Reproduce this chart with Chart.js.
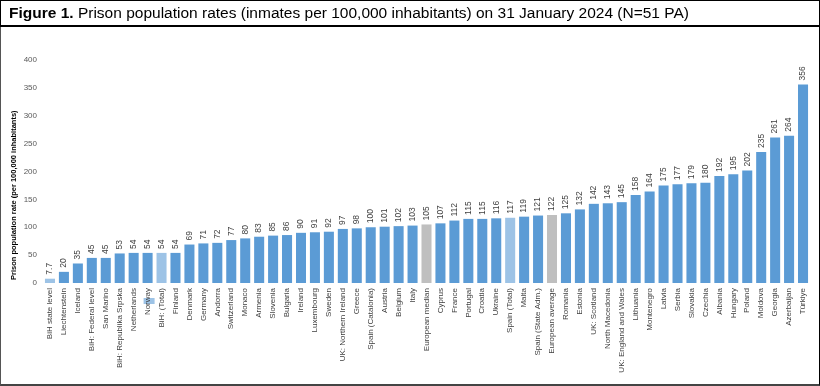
<!DOCTYPE html>
<html>
<head>
<meta charset="utf-8">
<script src="https://cdn.jsdelivr.net/npm/chart.js@4.4.1/dist/chart.umd.min.js"></script>
<style>
  html, body { margin: 0; padding: 0; background: #fff; }
  #wrap { position: relative; width: 820px; height: 386px; overflow: hidden; }
  #chart { position: absolute; left: 0; top: 0; }
  #frame {
    position: absolute; left: 0; top: 0; width: 820px; height: 386px;
    box-sizing: border-box; border: 1px solid #555; border-right-color: #000;
    border-bottom: 2px solid #444; pointer-events: none;
  }
  #title {
    position: absolute; left: 0; top: 0; width: 820px; height: 27px;
    box-sizing: border-box; border: 1px solid #000; border-bottom: 2px solid #000;
    font-family: "Liberation Sans", Arial, sans-serif; font-size: 15.5px; color: #000;
    line-height: 24px; padding-left: 8px; white-space: nowrap;
  }
</style>
</head>
<body>
<div id="wrap">
  <canvas id="chart" width="820" height="386"></canvas>
  <div id="frame"></div>
  <div id="title"><b>Figure 1.</b> Prison population rates (inmates per 100,000 inhabitants) on 31 January 2024 (N=51 PA)</div>
</div>
<script>
// 数据
const categories = [
  'BiH state level', 'Liechtenstein', 'Iceland', 'BiH: Federal level', 'San Marino',
  'BiH: Republika Srpska', 'Netherlands', 'Norway', 'BiH: (Total)', 'Finland',
  'Denmark', 'Germany', 'Andorra', 'Switzerland', 'Monaco', 'Armenia', 'Slovenia',
  'Bulgaria', 'Ireland', 'Luxembourg', 'Sweden', 'UK: Northern Ireland', 'Greece',
  'Spain (Catalonia)', 'Austria', 'Belgium', 'Italy', 'European median', 'Cyprus',
  'France', 'Portugal', 'Croatia', 'Ukraine', 'Spain (Total)', 'Malta',
  'Spain (State Adm.)', 'European average', 'Romania', 'Estonia', 'UK: Scotland',
  'North Macedonia', 'UK: England and Wales', 'Lithuania', 'Montenegro', 'Latvia',
  'Serbia', 'Slovakia', 'Czechia', 'Albania', 'Hungary', 'Poland', 'Moldova',
  'Georgia', 'Azerbaijan', 'Türkiye'
];
const rates = [
  7.7, 20, 35, 45, 45, 53, 54, 54, 54, 54,
  69, 71, 72, 77, 80, 83, 85, 86, 90, 91, 92, 97, 98, 100, 101, 102, 103,
  105, 107, 112, 115, 115, 116, 117, 119, 121, 122, 125, 132, 142, 143, 145,
  158, 164, 175, 177, 179, 180, 192, 195, 202, 235, 261, 264, 356
];
const lightBars = ['BiH state level', 'BiH: (Total)', 'Spain (Total)'];
const greyBars = ['European median', 'European average'];
const yTicks = [0, 50, 100, 150, 200, 250, 300, 350, 400];

const FONT = "'Liberation Sans', Arial, sans-serif";

const barColors = categories.map(c => {
  if (greyBars.includes(c)) return '#BFBFBF';
  if (lightBars.includes(c)) return '#9DC3E6';
  return '#5B9BD5';
});

// 数值标签
const valueLabels = {
  id: 'valueLabels',
  afterDatasetsDraw(chart) {
    const { ctx } = chart;
    const meta = chart.getDatasetMeta(0);
    ctx.save();
    ctx.font = '8.5px ' + FONT;
    ctx.fillStyle = '#404040';
    ctx.textAlign = 'left';
    ctx.textBaseline = 'middle';
    meta.data.forEach((bar, i) => {
      ctx.save();
      ctx.translate(bar.x, bar.y - 4);
      ctx.rotate(-Math.PI / 2);
      ctx.fillText(String(rates[i]), 0, 0);
      ctx.restore();
    });
    ctx.restore();
  }
};

// Y轴标题 + Norway 标签上的小色块
const extras = {
  id: 'extras',
  beforeDraw(chart) {
    const { ctx, chartArea } = chart;
    const x = chart.scales.x;
    const i = categories.indexOf('Norway');
    const cx = x.getPixelForValue(i);
    ctx.save();
    ctx.fillStyle = '#9DC3E6';
    ctx.fillRect(cx - 4, chartArea.bottom + 15, 11, 6);
    ctx.restore();
  },
  afterDraw(chart) {
    const { ctx, chartArea } = chart;
    ctx.save();
    ctx.font = 'bold 7.5px ' + FONT;
    ctx.fillStyle = '#000';
    ctx.textAlign = 'left';
    ctx.textBaseline = 'middle';
    ctx.translate(14, chartArea.bottom - 3);
    ctx.rotate(-Math.PI / 2);
    ctx.fillText('Prison population rate (per 100,000 inhabitants)', 0, 0);
    ctx.restore();
  }
};

new Chart(document.getElementById('chart'), {
  type: 'bar',
  data: {
    labels: categories,
    datasets: [{
      data: rates,
      backgroundColor: barColors,
      barPercentage: 0.8,
      categoryPercentage: 0.9
    }]
  },
  options: {
    responsive: false,
    animation: false,
    events: [],
    layout: { padding: { top: 60, right: 10, left: 0, bottom: 0 } },
    plugins: { legend: { display: false }, tooltip: { enabled: false } },
    scales: {
      x: {
        grid: { display: false, drawTicks: false },
        border: { display: false },
        ticks: {
          autoSkip: false, maxRotation: 90, minRotation: 90, padding: 5,
          color: '#404040', font: { family: FONT, size: 8 }
        },
        afterFit(scale) { scale.height = 103; }
      },
      y: {
        min: 0, max: 400,
        grid: { display: false, drawTicks: false },
        border: { display: false },
        afterBuildTicks(scale) { scale.ticks = yTicks.map(v => ({ value: v })); },
        ticks: { padding: 6, color: '#595959', font: { family: FONT, size: 8 } },
        afterFit(scale) { scale.width = 43; }
      }
    }
  },
  plugins: [valueLabels, extras]
});
</script>
</body>
</html>
